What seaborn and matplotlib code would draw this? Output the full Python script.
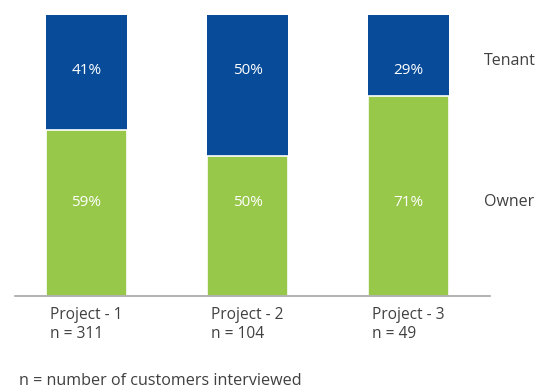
import matplotlib
matplotlib.use("Agg")
import matplotlib.pyplot as plt
import seaborn as sns
import pandas as pd

projects = ["Project - 1", "Project - 2", "Project - 3"]
sample_sizes = [311, 104, 49]
owner_pct = [59, 50, 71]
tenant_pct = [41, 50, 29]

BLUE = "#084C99"
GREEN = "#97C84A"
TEXT = "#404040"

sns.set_theme(style="white")
plt.rcParams["font.family"] = ["Open Sans", "DejaVu Sans"]

df = pd.DataFrame({
    "project": projects,
    "owner": owner_pct,
    "total": [o + t for o, t in zip(owner_pct, tenant_pct)],
})

fig = plt.figure(figsize=(5.45, 3.88), dpi=100)
ax = fig.add_axes([15 / 545, 1 - 296 / 388, 475 / 545, 281 / 388])

# stacked bars: full height in tenant blue, owner share in green on top
sns.barplot(data=df, x="project", y="total", color=BLUE, width=0.5,
            edgecolor="white", linewidth=0, ax=ax, saturation=1)
sns.barplot(data=df, x="project", y="owner", color=GREEN, width=0.5,
            edgecolor="white", linewidth=1.2, ax=ax, saturation=1)

ax.set_xlim(-0.444, 2.506)
ax.set_ylim(0, 100)
ax.set_xlabel("")
ax.set_ylabel("")
ax.set_yticks([])
ax.set_xticks([])
for s in ["top", "left", "right"]:
    ax.spines[s].set_visible(False)
ax.spines["bottom"].set_color("#A6A6A6")
ax.spines["bottom"].set_linewidth(1.2)

for i, (o, t) in enumerate(zip(owner_pct, tenant_pct)):
    ax.text(i, 80.3, f"{t}%", color="white", ha="center", va="center", fontsize=11)
    ax.text(i, 33.3, f"{o}%", color="white", ha="center", va="center", fontsize=11)
    ax.text(i - 0.225, -3.8, f"{projects[i]}\nn = {sample_sizes[i]}", color=TEXT,
            ha="left", va="top", fontsize=11.2, linespacing=1.3)

ax.text(2.47, 83.8, "Tenant", color=TEXT, ha="left", va="center", fontsize=11.5,
        clip_on=False)
ax.text(2.47, 33.3, "Owner", color=TEXT, ha="left", va="center", fontsize=11.5,
        clip_on=False)

fig.text(19 / 545, 1 - 381 / 388, "n = number of customers interviewed",
         color=TEXT, ha="left", va="center", fontsize=11.6)

fig.savefig("out.png", dpi=100)
